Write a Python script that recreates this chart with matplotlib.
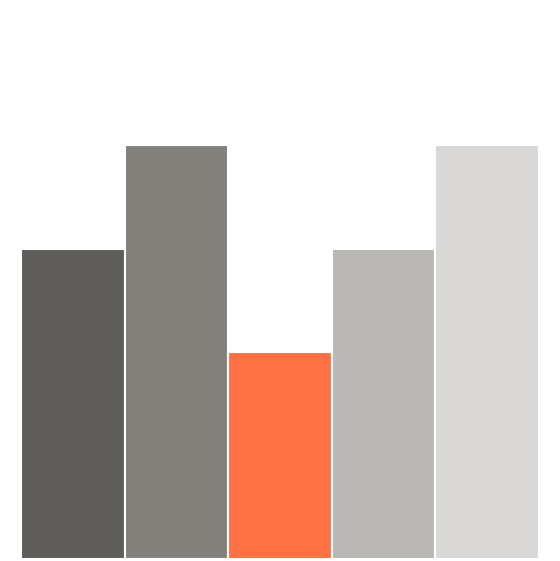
import matplotlib
matplotlib.use("Agg")
import matplotlib.pyplot as plt

categories = ["A", "B", "C", "D", "E"]
values = [3, 4, 2, 3, 4]
colors = ["#5f5d5a", "#82807b", "#ff7043", "#bab8b4", "#d9d8d6"]

W, H = 560, 561
fig = plt.figure(figsize=(W / 100, H / 100), dpi=100)
ax = fig.add_axes([21 / W, 2 / H, 518 / W, 517.5 / H])
ax.bar(range(len(categories)), values, width=1.0, color=colors,
       edgecolor="white", linewidth=1.5)
ax.set_xlim(-0.5, len(categories) - 0.5)
ax.set_ylim(0, 5)
ax.axis("off")
fig.savefig("out.png", dpi=100)
